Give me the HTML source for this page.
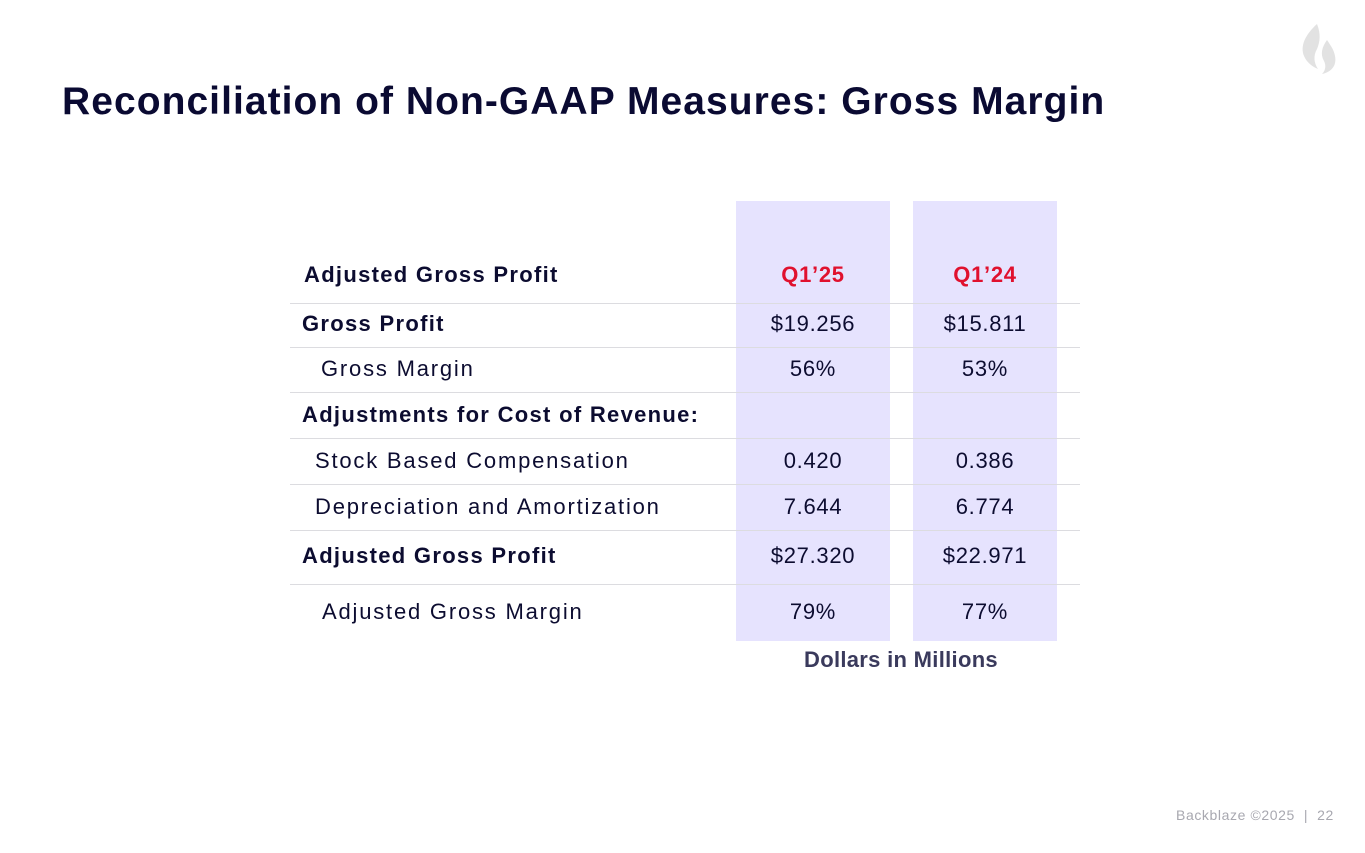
<!DOCTYPE html>
<html><head><meta charset="utf-8"><style>
body{margin:0;width:1365px;height:853px;background:#fff;position:relative;overflow:hidden;font-family:"Liberation Sans",sans-serif;color:#0c0c30}
.a{position:absolute;white-space:nowrap}
.col{position:absolute;background:#e6e3fe;top:201px;height:440px}
.ln{position:absolute;left:290px;width:790px;height:1px;background:#dcdce0}
.t{position:absolute;font-size:22px;line-height:26px;transform:translateY(-50%);white-space:nowrap;letter-spacing:1.8px}
.b{font-weight:bold;letter-spacing:1.3px}
.c1{left:736px;width:154px;text-align:center;letter-spacing:0.7px}
.c2{left:913px;width:144px;text-align:center;letter-spacing:0.7px}
</style></head><body>
<div class="a" style="left:1300px;top:22px">
<svg width="38" height="56" viewBox="0 0 38 56"><path d="M17 2C5 13 0 24 4 34c3 7 9 11 14 13-4-6-5-13-1-20 3-7 4-15 0-25z" fill="#e2e2e2"/><path d="M27 18c-5 7-7 14-3 21 2 4 2 9-2 13 9-2 15-8 13-18-1-6-4-10-8-16z" fill="#e2e2e2"/></svg></div>
<div class="a b" style="left:62px;top:80px;font-size:39px;color:#0a0a32;letter-spacing:1.05px">Reconciliation of Non-GAAP Measures: Gross Margin</div>
<div class="col" style="left:736px;width:154px"></div>
<div class="col" style="left:913px;width:144px"></div>
<div class="ln" style="top:303px"></div>
<div class="ln" style="top:347px"></div>
<div class="ln" style="top:392px"></div>
<div class="ln" style="top:438px"></div>
<div class="ln" style="top:484px"></div>
<div class="ln" style="top:530px"></div>
<div class="ln" style="top:584px"></div>
<div class="t b" style="left:304px;top:275px">Adjusted Gross Profit</div>
<div class="t b c1" style="top:275px;color:#e0112e">Q1’25</div>
<div class="t b c2" style="top:275px;color:#e0112e">Q1’24</div>
<div class="t b" style="left:302px;top:324px">Gross Profit</div>
<div class="t c1" style="top:324px">$19.256</div>
<div class="t c2" style="top:324px">$15.811</div>
<div class="t" style="left:321px;top:369px">Gross Margin</div>
<div class="t c1" style="top:369px">56%</div>
<div class="t c2" style="top:369px">53%</div>
<div class="t b" style="left:302px;top:415px">Adjustments for Cost of Revenue:</div>
<div class="t" style="left:315px;top:461px">Stock Based Compensation</div>
<div class="t c1" style="top:461px">0.420</div>
<div class="t c2" style="top:461px">0.386</div>
<div class="t" style="left:315px;top:507px">Depreciation and Amortization</div>
<div class="t c1" style="top:507px">7.644</div>
<div class="t c2" style="top:507px">6.774</div>
<div class="t b" style="left:302px;top:556px">Adjusted Gross Profit</div>
<div class="t c1" style="top:556px">$27.320</div>
<div class="t c2" style="top:556px">$22.971</div>
<div class="t" style="left:322px;top:612px">Adjusted Gross Margin</div>
<div class="t c1" style="top:612px">79%</div>
<div class="t c2" style="top:612px">77%</div>
<div class="t b" style="left:736px;width:330px;text-align:center;top:660px;color:#3a3a5c;letter-spacing:0.3px">Dollars in Millions</div>
<div class="a" style="left:1176px;top:807px;font-size:14px;color:#a8a8b0;letter-spacing:0.6px">Backblaze ©2025 &nbsp;|&nbsp; 22</div>
</body></html>
